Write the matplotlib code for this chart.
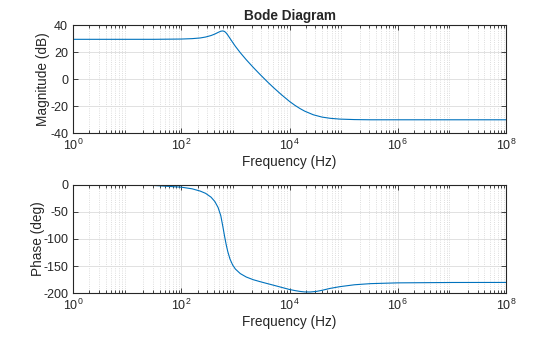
import numpy as np
import matplotlib
matplotlib.use('Agg')
import matplotlib.pyplot as plt
from matplotlib.ticker import LogLocator, NullFormatter

# frequency response samples, log10(Hz)
mag_logf = [0.0, 1.0, 1.5, 2.0, 2.2, 2.35, 2.45, 2.55, 2.62, 2.68, 2.73, 2.77,
            2.80, 2.83, 2.86, 2.90, 2.95, 3.00, 3.09, 3.20, 3.33, 3.45, 3.52,
            3.60, 3.70, 3.85, 4.00, 4.10, 4.19, 4.28, 4.44, 4.60, 4.75, 4.93,
            5.2, 5.5, 6.0, 7.0, 8.0]
mag_db = [29.6, 29.6, 29.6, 29.8, 30.1, 30.6, 31.3, 32.4, 33.5, 34.7, 35.6, 35.8,
          35.4, 34.3, 32.7, 30.3, 27.3, 24.4, 19.7, 14.5, 8.8, 3.8, 1.0,
          -2.2, -6.0, -11.4, -16.4, -19.3, -21.6, -23.6, -26.3, -28.0, -28.9, -29.5,
          -29.85, -30.0, -30.0, -30.0, -30.0]

ph_logf = [0.0, 1.0, 1.5, 2.0, 2.2, 2.35, 2.45, 2.55, 2.62, 2.68, 2.73, 2.77,
           2.80, 2.83, 2.86, 2.90, 2.95, 3.00, 3.09, 3.20, 3.33, 3.45, 3.52,
           3.60, 3.70, 3.85, 4.00, 4.10, 4.19, 4.28, 4.38, 4.50, 4.60, 4.75,
           4.93, 5.2, 5.5, 6.0, 7.0, 8.0]
ph_deg = [0.0, -0.5, -1.5, -4.6, -7.6, -11.8, -16.0, -23.0, -31.0, -42.0, -57.0, -78.0,
          -95.0, -110.5, -123.5, -136.9, -148.0, -155.4, -163.7, -170.0, -175.0, -178.4, -180.3,
          -182.4, -185.0, -189.0, -193.0, -195.0, -196.5, -197.5, -197.6, -196.5, -194.5, -191.0,
          -187.8, -184.3, -182.2, -180.8, -180.1, -180.0]

mag_yticks = [-40, -20, 0, 20, 40]
ph_yticks = [-200, -150, -100, -50, 0]

plt.rcParams['font.family'] = ['Liberation Sans', 'DejaVu Sans']
plt.rcParams['mathtext.fontset'] = 'custom'
plt.rcParams['mathtext.rm'] = 'Liberation Sans'
plt.rcParams['mathtext.it'] = 'Liberation Sans'
plt.rcParams['axes.unicode_minus'] = False

fg = '#262626'
line_c = '#0072BD'

fig = plt.figure(figsize=(5.6, 3.37), dpi=100)
ax1 = fig.add_axes([0.1304, 0.6045, 0.7732, 0.3205])
ax2 = fig.add_axes([0.1304, 0.1297, 0.7732, 0.3223])


def style(ax, yticks):
    ax.set_xscale('log')
    ax.set_xlim(1, 1e8)
    ax.set_ylim(yticks[0], yticks[-1])
    ax.set_yticks(yticks)
    ax.set_xticks([1, 1e2, 1e4, 1e6, 1e8])
    ax.xaxis.set_minor_locator(LogLocator(base=10, subs=np.arange(2, 10), numticks=20))
    ax.xaxis.set_minor_formatter(NullFormatter())
    ax.tick_params(which='both', direction='in', top=True, right=True,
                   colors=fg, labelsize=9, width=0.6)
    ax.tick_params(which='major', length=3.5)
    ax.tick_params(which='minor', length=2)
    ax.tick_params(axis='x', pad=3.5)
    ax.grid(which='major', color='#dcdcdc', linewidth=0.6, linestyle='-')
    ax.grid(which='minor', axis='x', color='#d2d2d2', linewidth=0.6, linestyle=':')
    for s in ax.spines.values():
        s.set_color(fg)
        s.set_linewidth(0.8)
    ax.set_axisbelow(True)
    ax.set_xlabel('Frequency (Hz)', fontsize=9.8, color=fg, labelpad=1.5)


ax1.plot(10 ** np.array(mag_logf), mag_db, color=line_c, linewidth=0.8)
style(ax1, mag_yticks)
ax1.set_ylabel('Magnitude (dB)', fontsize=9.8, color=fg, labelpad=0)
ax1.set_title('Bode Diagram', fontsize=9.8, fontweight='bold', color=fg, pad=4)

ax2.plot(10 ** np.array(ph_logf), ph_deg, color=line_c, linewidth=0.8)
style(ax2, ph_yticks)
ax2.set_ylabel('Phase (deg)', fontsize=9.8, color=fg, labelpad=-1.5)

fig.savefig('out.png', dpi=100)
